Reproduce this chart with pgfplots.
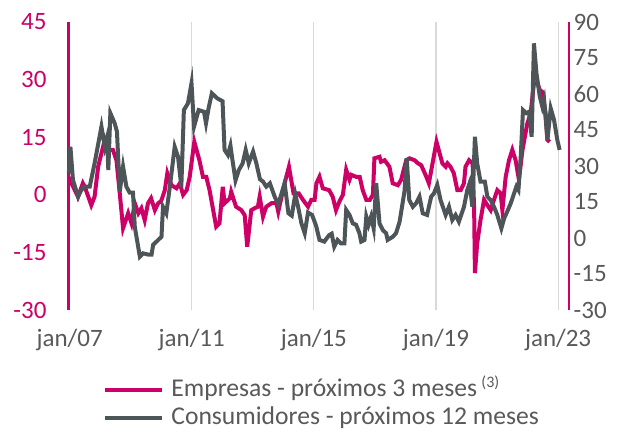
\documentclass[border=0pt]{standalone}
\usepackage{pgfplots}
\pgfplotsset{compat=1.18}
\usepackage{fontspec}
\setmainfont{Carlito}
\definecolor{pinkc}{HTML}{CC0066}
\definecolor{grayc}{HTML}{4D5558}
\definecolor{txtc}{HTML}{595959}
\definecolor{gridc}{HTML}{D9D9D9}
\pgfplotsset{common/.style={
  scale only axis, width=250.4bp, height=144bp,
  xmin=-0.45, xmax=196.4,
  tick label style={font=\fontsize{12.5bp}{15bp}\selectfont},
  major tick length=0pt,
  /pgf/number format/assume math mode=true,
  x axis line style={draw=none},
  y axis line style={draw=pinkc, line width=1.1bp},
  clip=false,
}}
\begin{document}
\begin{tikzpicture}
\path[use as bounding box] (-34.25bp,-62bp) rectangle (280.75bp,155bp);
\begin{axis}[common, at={(0,0)}, anchor=south west,
  axis y line*=left,
  ymin=-30, ymax=45, ytick={-30,-15,...,45},
  yticklabel style={text=pinkc, xshift=-7.5bp},
  xtick={0,48,96,144,192}, xticklabels={jan/07,jan/11,jan/15,jan/19,jan/23},
  xticklabel style={text=txtc, yshift=-5.8bp},
  xmajorgrids, grid style={gridc, line width=0.6bp},
  legend style={at={(0.0689,-0.3247)}, anchor=west, draw=none, fill=none,
    inner sep=0pt, text=txtc, font=\fontsize{12.8bp}{15bp}\selectfont,
    column sep=3.5bp, row sep=0.5bp,
    nodes={inner xsep=0pt, inner ysep=0.5bp, text height=9.5bp, text depth=3bp}},
  legend cell align=left,
  legend image code/.code={\draw[#1] (0bp,0bp) -- (28.5bp,0bp);},
]
\addplot[pinkc, line width=2bp] coordinates {
(0,4.7) (0.7,3.0) (3.3,-0.5) (5.2,3.0) (6,2.0) (8.5,-2.7) (9.8,-0.5) (11.2,7.3)
(13.8,14.3) (15,11.7) (17,11.7) (18.4,9.0) (19.7,0.4) (21,-8.7) (23,-4.8) (24.3,-7.4)
(25.6,-2.2) (27,-4.8) (28.2,-3.5) (29.5,-6.6) (30.8,-2.2) (32,-0.9) (33.5,-4.0) (34.8,-2.2)
(36,-1.6) (37.4,1.2) (38.4,5.6) (40,2.5) (42,1.7) (43.3,3.0) (44.6,0.0) (46,1.2)
(47.2,4.7) (49,13.8) (51,9.0) (52.4,4.7) (53.7,4.7) (55,1.2) (57.6,-8.3) (58.9,-7.4)
(60.2,2.1) (60.9,-2.2) (63,-0.9) (63.5,0.8) (65.4,-3.1) (67.5,-4.0) (68.8,-5.3) (69.8,-13.5)
(71.4,-4.0) (72.7,-3.5) (74,-3.1) (74.7,-0.5) (76,-5.7) (77.3,-3.1) (79.3,-2.2) (81.3,-2.2)
(82,-4.4) (83.3,-0.5) (84.5,3.0) (86.2,7.3) (88,0.4) (90,0.4) (91.7,-1.3) (93.7,-3.1)
(95,-1.3) (96.3,-1.3) (97,3.0) (98.2,4.7) (99.5,1.7) (102,1.2) (103.4,-0.5) (104.7,-4.0)
(106,-1.8) (107.4,0.0) (108.7,6.5) (110,3.9) (110.7,5.2) (112.6,4.7) (114,4.7) (115.2,1.2)
(116.6,-1.3) (118,-1.3) (119.2,0.0) (119.8,9.5) (121.8,9.9) (122.4,8.6) (123.8,9.0) (125.7,7.3)
(127,3.0) (129,2.5) (130.3,3.9) (132.3,9.0) (133.6,9.5) (135.6,9.0) (136.9,8.2) (138.2,7.7)
(140.2,4.7) (141.2,3.0) (142.4,7.3) (144.2,13.8) (146.5,8.2) (147.8,7.3) (148.5,8.2) (149.7,7.3)
(151,5.6) (152.4,1.2) (153.7,1.2) (155,3.0) (155.6,7.3) (157,9.0) (158.4,8.2) (159,-4.0)
(159.3,-20.4) (160.2,-12.6) (161.5,-6.6) (162.9,-1.3) (164.2,-2.7) (165.5,-4.0) (166.8,-1.3) (168.1,1.2)
(169.4,0.4) (170.1,-4.0) (171.4,4.7) (172.7,9.0) (174,11.7) (175.3,9.0) (176.6,3.9) (178,11.7)
(179.9,18.6) (181.2,21.2) (182.5,29.0) (183.9,29.0) (184.8,27.3) (185.8,26.8) (187.1,21.2) (187.8,14.3)
(188.7,13.8)
};
\addlegendentry{Empresas - próximos 3 meses\,{\fontsize{8bp}{9bp}\selectfont\raisebox{4.5bp}{(3)}}}
\addlegendimage{grayc, line width=2bp}
\addlegendentry{Consumidores - próximos 12 meses}
\end{axis}
\begin{axis}[common, at={(0,0)}, anchor=south west,
  axis y line*=right,
  ymin=-30, ymax=90, ytick={-30,-15,...,90},
  yticklabel style={text=txtc, xshift=-1.3bp},
  xtick=\empty,
]
\addplot[grayc, line width=2bp] coordinates {
(-0.3,27) (0.3,38) (1.3,24.2) (3.3,17.2) (4.6,20) (5.9,21.4) (7.9,21.4) (9.8,31.1)
(12.5,46.4) (13.8,38) (14.7,41.8) (15.2,28.3) (16,52) (17.7,47.8) (18.6,44.3) (19.7,19.3)
(21,29.7) (22.3,21.4) (23.6,18.9) (24.9,18.9) (25.6,4.7) (27.6,-7.8) (28.9,-6.4) (30.8,-6.9)
(32.2,-6.9) (32.8,-2.9) (34.8,-0.8) (36.1,0.5) (36.7,13) (38,10.3) (39.4,21.4) (41.3,38)
(42.6,33.9) (43.9,21.4) (44.9,53.3) (46.5,56.1) (47.9,64.5) (48.9,46.4) (50.7,53.3) (52.8,52.6)
(53.6,47.8) (54.6,54) (55.9,60.3) (58,58.2) (60.1,57) (60.9,36.7) (62.2,34.6) (63.2,38.5)
(63.8,33.9) (65.2,24) (66.5,28.3) (68,31.1) (69.2,36.7) (70.4,31.1) (72.1,36) (73.4,31.1)
(74.8,24.5) (76,23.5) (77.3,21.4) (78.7,22.8) (80.6,17.2) (82,14) (83.3,18.6) (84.5,22.8)
(86,10.3) (87.3,9.3) (88.7,18.2) (89.8,13) (91.1,6.1) (92.4,2) (93.7,10.6) (95.3,9.6)
(96.9,5) (98.2,-0.8) (100.1,-1.5) (102,1.2) (103,1.8) (104,-3.6) (105.3,-0.8) (106.6,-2.2)
(108,-2.2) (108.7,11.7) (110,9.6) (111.3,6.1) (112.6,5.5) (113.9,2) (114.6,-1.5) (115.9,-0.8)
(116.6,8.9) (117.5,5.5) (118.5,8.9) (119.5,4) (120.5,22.8) (121.8,6.1) (123.1,3.3) (124.4,2)
(125,-0.8) (127,0.5) (128.3,2) (129.7,6.8) (131.6,19.3) (132.5,33.2) (133.5,15.8) (134.9,13)
(136.2,14.5) (137.5,17.2) (138.8,10.3) (140.5,9.6) (142.1,17.2) (143.2,18.6) (144.5,22.1) (145.8,15.8)
(147.8,9.6) (149.1,13) (150.4,7.5) (151.7,9.6) (153,6.8) (155,13) (156.3,20) (157.2,22.8)
(158.3,13) (159.3,42.2) (160.2,31.1) (161.5,23.5) (163.2,23.5) (164.2,17.2) (165.5,15.8) (166.8,13)
(168.1,9.6) (169.7,4) (170.8,8.2) (172,11) (173.4,14.5) (174.7,18.6) (175.6,21.4) (176.4,20)
(177.3,33.9) (178.2,53.3) (179.5,52) (180.6,52.6) (181.6,42.2) (182.5,81.1) (183.5,68.6) (184.8,58.9)
(185.8,54.7) (186.5,57.5) (187.8,40.8) (189.1,54) (190.4,49.2) (191.7,40.8) (192.6,36.7)
};
\end{axis}
\end{tikzpicture}
\end{document}
